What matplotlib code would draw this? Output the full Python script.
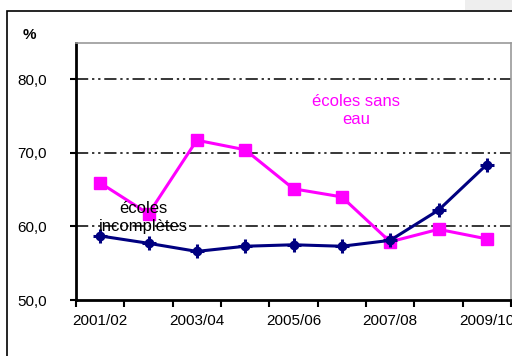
import matplotlib
matplotlib.use("Agg")
import matplotlib.pyplot as plt
import matplotlib.patches as mpatches

years = ["2001/02", "2002/03", "2003/04", "2004/05", "2005/06",
         "2006/07", "2007/08", "2008/09", "2009/10"]
sans_eau = [65.9, 61.7, 71.7, 70.4, 65.1, 64.0, 57.9, 59.6, 58.3]
incompletes = [58.7, 57.7, 56.6, 57.3, 57.5, 57.3, 58.1, 62.2, 68.4]
yticks = [50, 60, 70, 80]

PINK = "#ff00ff"
NAVY = "#000080"

plt.rcParams["font.family"] = ["Liberation Sans", "DejaVu Sans"]

fig = plt.figure(figsize=(5.12, 3.56), dpi=100)
# outer chart frame
fig.patches.append(mpatches.Rectangle((7 / 512, -0.05), 1.2, 1 - 11 / 356 + 0.05,
                                      transform=fig.transFigure, fill=False,
                                      edgecolor="black", lw=1.2))
fig.patches.append(mpatches.Rectangle((465 / 512, 1 - 10 / 356), 0.2, 0.1,
                                      transform=fig.transFigure, facecolor="#eeeeee",
                                      edgecolor="none"))

ax = fig.add_axes([76 / 512, 1 - 300 / 356, 435 / 512, 257 / 356])
x = list(range(len(years)))

for y in [60, 70, 80]:
    ax.axhline(y, color="black", lw=1.1, linestyle=(0, (8, 2.5, 1.5, 2.5, 1.5, 2.5)), zorder=1)

ax.plot(x, sans_eau, color=PINK, lw=2.2, marker="s", ms=8.5, zorder=3)
ax.plot(x, incompletes, color=NAVY, lw=2.2, marker="o", ms=6, zorder=4)
ax.plot(x, incompletes, color=NAVY, lw=0, marker="+", ms=10, mew=2.2, zorder=4)

ax.set_xlim(-0.5, 8.5)
ax.set_ylim(50, 84.9)
ax.set_yticks(yticks)
ax.set_yticklabels([f"{v:.1f}".replace(".", ",") for v in yticks], fontsize=11)
ax.set_xticks(x[::2])
ax.set_xticklabels(years[::2], fontsize=11)
ax.set_xticks([i - 0.5 for i in range(len(years) + 1)], minor=True)
ax.tick_params(axis="x", which="major", length=0, pad=10)
ax.tick_params(axis="x", which="minor", length=5, width=1.5, direction="out")
ax.tick_params(axis="y", length=4, width=1.5, direction="out", pad=17)

ax.spines["left"].set_linewidth(2)
ax.spines["bottom"].set_linewidth(2)
ax.spines["top"].set_color("#999999")
ax.spines["right"].set_color("#999999")
ax.spines["top"].set_linewidth(1.2)
ax.spines["right"].set_linewidth(1.2)

ax.text(5.3, 75.7, "écoles sans\neau", color=PINK, fontsize=12, ha="center",
        va="center", linespacing=1.25)
ax.text(0.9, 61.2, "écoles\nincomplètes", color="black", fontsize=12, ha="center",
        va="center", linespacing=1.25, zorder=5)
fig.text(29 / 512, 1 - 35 / 356, "%", fontsize=11, ha="center", va="center",
         fontweight="bold")

fig.savefig("out.png", dpi=100)
